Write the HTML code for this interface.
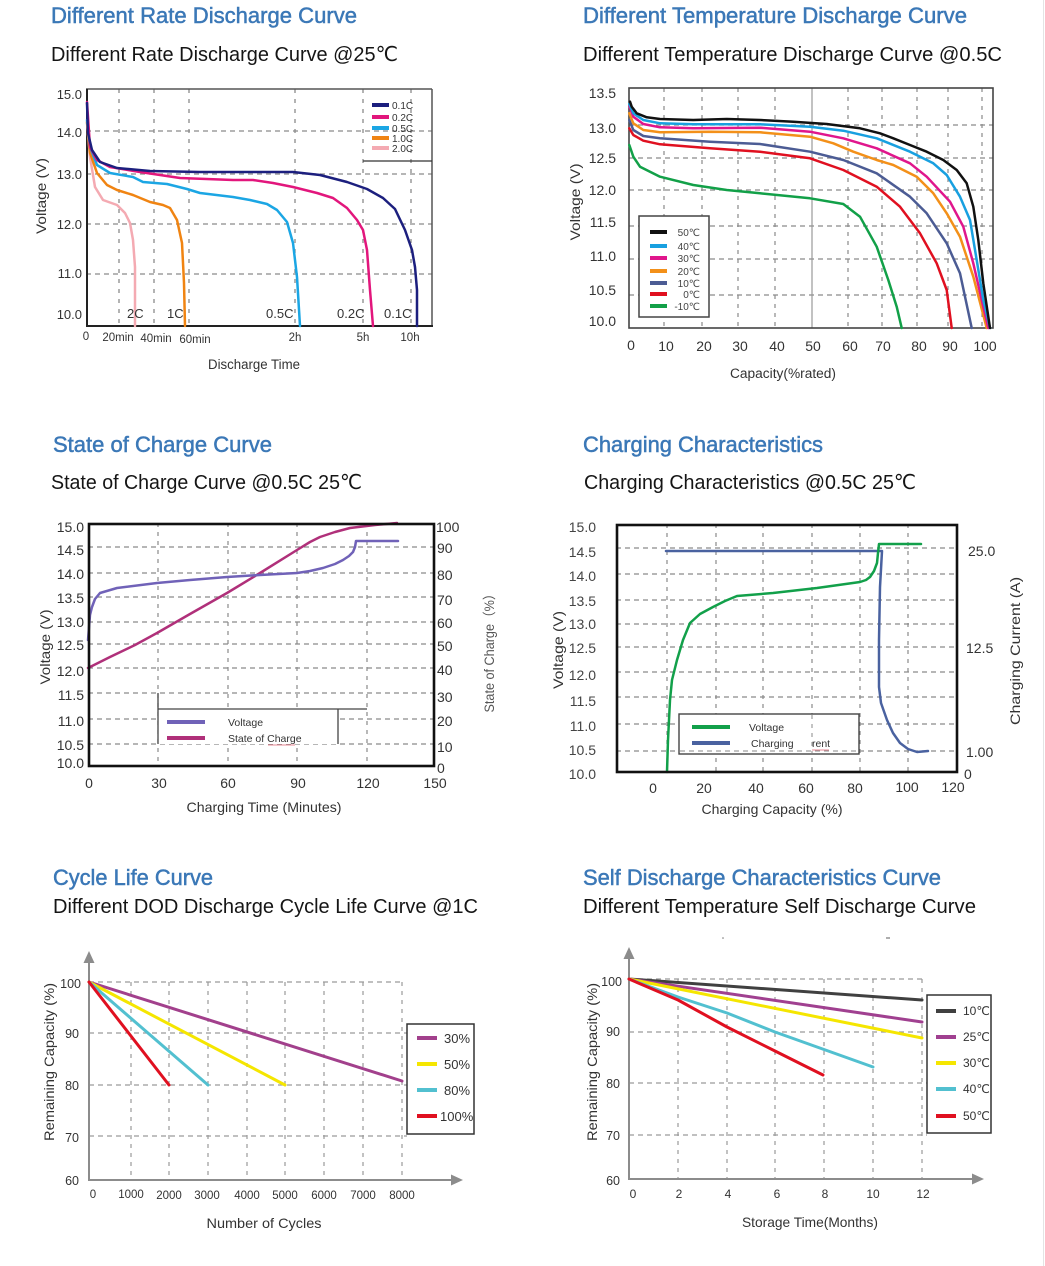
<!DOCTYPE html>
<html><head><meta charset="utf-8"><style>
html,body{margin:0;padding:0;background:#fff;}
svg{display:block;}
</style></head><body>
<svg width="1045" height="1266" viewBox="0 0 1045 1266" xmlns="http://www.w3.org/2000/svg" font-family="'Liberation Sans','DejaVu Sans','Noto Sans CJK SC',sans-serif">
<rect width="1045" height="1266" fill="#fff"/>
<line x1="1043.5" y1="0" x2="1043.5" y2="1266" stroke="#e4e4e4" stroke-width="1"/>

<!-- ============ TITLES ============ -->
<g fill="#3b78b7" stroke="#3b78b7" stroke-width="0.5" font-size="22">
<text x="51" y="23" textLength="306" lengthAdjust="spacingAndGlyphs">Different Rate Discharge Curve</text>
<text x="583" y="23" textLength="384" lengthAdjust="spacingAndGlyphs">Different Temperature Discharge Curve</text>
<text x="53" y="452" textLength="219" lengthAdjust="spacingAndGlyphs">State of Charge Curve</text>
<text x="583" y="452" textLength="240" lengthAdjust="spacingAndGlyphs">Charging Characteristics</text>
<text x="53" y="885" textLength="160" lengthAdjust="spacingAndGlyphs">Cycle Life Curve</text>
<text x="583" y="885" textLength="358" lengthAdjust="spacingAndGlyphs">Self Discharge Characteristics Curve</text>
</g>
<g fill="#151515" font-size="20.5">
<text x="51" y="61" textLength="347" lengthAdjust="spacingAndGlyphs">Different Rate Discharge Curve @25℃</text>
<text x="583" y="61" textLength="419" lengthAdjust="spacingAndGlyphs">Different Temperature Discharge Curve @0.5C</text>
<text x="51" y="489" textLength="311" lengthAdjust="spacingAndGlyphs">State of Charge Curve @0.5C 25℃</text>
<text x="584" y="489" textLength="332" lengthAdjust="spacingAndGlyphs">Charging Characteristics @0.5C 25℃</text>
<text x="53" y="913" textLength="425" lengthAdjust="spacingAndGlyphs">Different DOD Discharge Cycle Life Curve @1C</text>
<text x="583" y="913" textLength="393" lengthAdjust="spacingAndGlyphs">Different Temperature Self Discharge Curve</text>
</g>

<!-- ============ CHART 1 ============ -->
<g stroke="#8a8a8a" stroke-width="1.3" stroke-dasharray="5,4" fill="none">
<line x1="86" y1="131" x2="432" y2="131"/>
<line x1="86" y1="174" x2="432" y2="174"/>
<line x1="86" y1="224" x2="432" y2="224"/>
<line x1="86" y1="274" x2="432" y2="274"/>
</g>
<g stroke="#8a8a8a" stroke-width="1.3" stroke-dasharray="4,6" fill="none">
<line x1="119" y1="89" x2="119" y2="326"/>
<line x1="154" y1="89" x2="154" y2="326"/>
<line x1="189" y1="89" x2="189" y2="326"/>
<line x1="295" y1="89" x2="295" y2="326"/>
<line x1="363" y1="89" x2="363" y2="326"/>
<line x1="411" y1="89" x2="411" y2="326"/>
</g>
<line x1="86" y1="89" x2="432" y2="89" stroke="#555" stroke-width="1.5"/>
<line x1="432" y1="89" x2="432" y2="326" stroke="#555" stroke-width="1.5"/>
<line x1="87" y1="89" x2="87" y2="327" stroke="#222" stroke-width="2"/>
<line x1="86" y1="326" x2="433" y2="326" stroke="#222" stroke-width="2"/>
<!-- legend -->
<line x1="363" y1="161" x2="432" y2="161" stroke="#333" stroke-width="1.3"/>
<g stroke-width="4">
<line x1="372" y1="105" x2="389" y2="105" stroke="#1c1f7e"/>
<line x1="372" y1="117" x2="389" y2="117" stroke="#e2167c"/>
<line x1="372" y1="128" x2="389" y2="128" stroke="#1ba6e4"/>
<line x1="372" y1="138" x2="389" y2="138" stroke="#f08412"/>
<line x1="372" y1="148" x2="389" y2="148" stroke="#f4aab2"/>
</g>
<g font-size="10" fill="#333">
<text x="392" y="109">0.1C</text>
<text x="392" y="121">0.2C</text>
<text x="392" y="132">0.5C</text>
<text x="392" y="142">1.0C</text>
<text x="392" y="152">2.0C</text>
</g>
<!-- curves -->
<g fill="none" stroke-width="2.5" stroke-linejoin="round" stroke-linecap="round">
<polyline stroke="#f4aab2" points="87,123 90,157 95,187 103,200 117,205 125,213 130,223 133,240 135,267 135,326"/>
<polyline stroke="#f08412" points="87,122 90,153 97,173 107,185 117,190 133,195 150,202 163,205 170,208 177,220 182,243 184,283 185,326"/>
<polyline stroke="#1ba6e4" points="87,120 90,147 97,165 110,173 133,177 143,182 167,184 187,189 200,193 233,197 250,200 267,204 277,210 287,222 293,243 297,277 300,326"/>
<polyline stroke="#e2167c" points="87,102 90,147 97,160 110,167 140,172 180,178 233,180 253,180 273,183 293,187 317,193 333,198 347,208 357,220 363,230 367,250 370,290 373,326"/>
<polyline stroke="#1c1f7e" points="87,103 88,133 92,150 100,162 117,168 150,171 200,172 250,172 293,172 320,175 347,182 367,189 383,198 395,209 405,230 412,250 415,267 417,290 417,326"/>
</g>
<g font-size="13" fill="#333" text-anchor="end">
<text x="82" y="99">15.0</text>
<text x="82" y="137">14.0</text>
<text x="82" y="179">13.0</text>
<text x="82" y="229">12.0</text>
<text x="82" y="278">11.0</text>
<text x="82" y="319">10.0</text>
</g>
<g font-size="13" fill="#333">
<text x="127" y="318">2C</text>
<text x="167" y="318">1C</text>
<text x="266" y="318">0.5C</text>
<text x="337" y="318">0.2C</text>
<text x="384" y="318">0.1C</text>
</g>
<g font-size="11.5" fill="#333" text-anchor="middle">
<text x="86" y="340">0</text>
<text x="118" y="341">20min</text>
<text x="156" y="342">40min</text>
<text x="195" y="343">60min</text>
<text x="295" y="341">2h</text>
<text x="363" y="341">5h</text>
<text x="410" y="341">10h</text>
</g>
<text x="254" y="369" font-size="13.5" fill="#333" text-anchor="middle" textLength="92" lengthAdjust="spacingAndGlyphs">Discharge Time</text>
<text transform="translate(46,196) rotate(-90)" font-size="14" fill="#333" text-anchor="middle" textLength="76" lengthAdjust="spacingAndGlyphs">Voltage (V)</text>

<!-- ============ CHART 2 ============ -->
<g stroke="#8a8a8a" stroke-width="1.2" stroke-dasharray="5,4" fill="none">
<line x1="629" y1="125" x2="993" y2="125"/>
<line x1="629" y1="158" x2="993" y2="158"/>
<line x1="629" y1="190" x2="993" y2="190"/>
<line x1="629" y1="226" x2="993" y2="226"/>
<line x1="629" y1="259" x2="993" y2="259"/>
<line x1="629" y1="295" x2="993" y2="295"/>
</g>
<g stroke="#8a8a8a" stroke-width="1.2" stroke-dasharray="4,5" fill="none">
<line x1="664" y1="88" x2="664" y2="328"/>
<line x1="702" y1="88" x2="702" y2="328"/>
<line x1="738" y1="88" x2="738" y2="328"/>
<line x1="775" y1="88" x2="775" y2="328"/>
<line x1="848" y1="88" x2="848" y2="328"/>
<line x1="882" y1="88" x2="882" y2="328"/>
<line x1="917" y1="88" x2="917" y2="328"/>
<line x1="948" y1="88" x2="948" y2="328"/>
<line x1="982" y1="88" x2="982" y2="328"/>
</g>
<line x1="812" y1="88" x2="812" y2="328" stroke="#999" stroke-width="1.2"/>
<rect x="629" y="88" width="364" height="240" fill="none" stroke="#444" stroke-width="1.6"/>
<g fill="none" stroke-width="2.5" stroke-linejoin="round" stroke-linecap="round">
<polyline stroke="#12a048" points="629.3,145 633.3,156.7 640,166.7 660,176.7 693.3,185 726.7,190 760,193.3 810,198.3 843.3,204 860,216.7 876.7,246.7 888.3,280 896.7,306.7 901.7,328"/>
<polyline stroke="#e01020" points="629.3,128.3 633.3,135 643.3,140.7 660,144.3 710,148.3 760,151.7 810,158.3 843.3,170 876.7,186.7 900,206.7 920,233.3 936.7,263.3 946.7,290 951.7,328"/>
<polyline stroke="#4c5c94" points="629.3,120 633.3,130 643.3,136 660,138.3 710,141.7 760,144 810,151.7 843.3,160 876.7,173.3 910,196.7 926.7,213.3 946.7,243.3 960,273.3 971.7,328"/>
<polyline stroke="#f39019" points="629.3,113.3 633.3,123.3 643.3,130 660,132.3 710,131.7 760,132.3 810,136.7 833.3,143.3 853.3,151.7 876.7,160 893.3,165 916.7,176.7 933.3,193.3 946.7,213.3 960,236.7 973.3,276.7 986.7,328"/>
<polyline stroke="#e0168c" points="629.3,106 633.3,116.7 643.3,124 660,127.3 693.3,128.3 760,127.7 810,131.7 843.3,138.3 876.7,148.3 910,163.3 926.7,176.7 950,201.7 963.3,226.7 973.3,263.3 981.7,300 988.3,328"/>
<polyline stroke="#18a0e0" points="629.3,104 633.3,113.3 643.3,120 660,123.3 693.3,124.3 760,124.3 810,126.7 843.3,130.7 876.7,138.3 910,151.7 933.3,163.3 946.7,175 960,196.7 970,220 976.7,260 983.3,300 990,328"/>
<polyline stroke="#111" points="630,101.7 631.7,106.7 636.7,113.3 646.7,117.3 660,119 693.3,120 726.7,119 760,120 793.3,121.7 826.7,124 860,128.3 880,133.3 893.3,138.3 910,145 926.7,151.7 943.3,160 956.7,170 966.7,183.3 973.3,206.7 978.3,240 983.3,283.3 990,328"/>
</g>
<!-- legend -->
<rect x="639" y="216" width="70" height="101" fill="#fff" stroke="#444" stroke-width="1.5"/>
<g stroke-width="4">
<line x1="650" y1="232" x2="667" y2="232" stroke="#111"/>
<line x1="650" y1="246" x2="667" y2="246" stroke="#18a0e0"/>
<line x1="650" y1="258" x2="667" y2="258" stroke="#e0168c"/>
<line x1="650" y1="271" x2="667" y2="271" stroke="#f39019"/>
<line x1="650" y1="283" x2="667" y2="283" stroke="#4c5c94"/>
<line x1="650" y1="294" x2="667" y2="294" stroke="#e01020"/>
<line x1="650" y1="306" x2="667" y2="306" stroke="#12a048"/>
</g>
<g font-size="10" fill="#444" text-anchor="end">
<text x="700" y="236">50℃</text>
<text x="700" y="250">40℃</text>
<text x="700" y="262">30℃</text>
<text x="700" y="275">20℃</text>
<text x="700" y="287">10℃</text>
<text x="700" y="298">0℃</text>
<text x="700" y="310">-10℃</text>
</g>
<g font-size="14" fill="#333" text-anchor="end">
<text x="616" y="98">13.5</text>
<text x="616" y="133">13.0</text>
<text x="616" y="163">12.5</text>
<text x="616" y="195">12.0</text>
<text x="616" y="227">11.5</text>
<text x="616" y="261">11.0</text>
<text x="616" y="295">10.5</text>
<text x="616" y="326">10.0</text>
</g>
<g font-size="14" fill="#333" text-anchor="middle">
<text x="631" y="350">0</text>
<text x="666" y="351">10</text>
<text x="704" y="351">20</text>
<text x="740" y="351">30</text>
<text x="777" y="351">40</text>
<text x="813" y="351">50</text>
<text x="850" y="351">60</text>
<text x="883" y="351">70</text>
<text x="919" y="351">80</text>
<text x="950" y="351">90</text>
<text x="985" y="351">100</text>
</g>
<text x="783" y="378" font-size="13.5" fill="#333" text-anchor="middle" textLength="106" lengthAdjust="spacingAndGlyphs">Capacity(%rated)</text>
<text transform="translate(580,202) rotate(-90)" font-size="14" fill="#333" text-anchor="middle" textLength="77" lengthAdjust="spacingAndGlyphs">Voltage (V)</text>

<!-- ============ CHART 3 ============ -->
<g stroke="#8a8a8a" stroke-width="1.2" stroke-dasharray="5,4" fill="none">
<line x1="88" y1="547" x2="434" y2="547"/>
<line x1="88" y1="573" x2="434" y2="573"/>
<line x1="88" y1="597" x2="434" y2="597"/>
<line x1="88" y1="622" x2="434" y2="622"/>
<line x1="88" y1="644" x2="434" y2="644"/>
<line x1="88" y1="668" x2="434" y2="668"/>
<line x1="88" y1="693" x2="434" y2="693"/>
<line x1="88" y1="719" x2="434" y2="719"/>
<line x1="88" y1="744" x2="434" y2="744"/>
</g>
<g stroke="#8a8a8a" stroke-width="1.2" stroke-dasharray="4,5" fill="none">
<line x1="158" y1="523" x2="158" y2="766"/>
<line x1="228" y1="523" x2="228" y2="766"/>
<line x1="297" y1="523" x2="297" y2="766"/>
<line x1="367" y1="523" x2="367" y2="766"/>
</g>
<!-- legend -->
<rect x="158" y="709" width="180" height="35" fill="#fff"/>
<g stroke="#444" stroke-width="1.3" fill="none">
<line x1="158" y1="693" x2="158" y2="744"/>
<line x1="158" y1="709" x2="367" y2="709"/>
<line x1="338" y1="709" x2="338" y2="744"/>
</g>
<line x1="167" y1="722" x2="205" y2="722" stroke="#7062b8" stroke-width="4"/>
<line x1="167" y1="738" x2="205" y2="738" stroke="#b0307a" stroke-width="4"/>
<g font-size="10.5" fill="#333">
<text x="228" y="726">Voltage</text>
<text x="228" y="742">State of Charge</text>
</g>
<line x1="268" y1="745" x2="295" y2="745" stroke="#e06070" stroke-width="0.8"/>
<g fill="none" stroke-width="2.5" stroke-linejoin="round" stroke-linecap="round">
<polyline stroke="#b0307a" points="88,668 110,657 135,645 157,633 190,614 227,593 260,573 297,550 310,542 320,537 335,532 350,528 375,525 397,523"/>
<polyline stroke="#7062b8" points="88,640 90,615 92,607 95,599 100,593 117,588 157,583 190,580 227,577 260,575 297,573 310,571 323,568 335,564 343,560 349,556 353,552 355,547 356,541 398,541"/>
</g>
<rect x="89" y="524" width="345" height="242" fill="none" stroke="#111" stroke-width="2.6"/>
<g font-size="14" fill="#333" text-anchor="end">
<text x="84" y="532">15.0</text>
<text x="84" y="555">14.5</text>
<text x="84" y="579">14.0</text>
<text x="84" y="603">13.5</text>
<text x="84" y="627">13.0</text>
<text x="84" y="650">12.5</text>
<text x="84" y="676">12.0</text>
<text x="84" y="700">11.5</text>
<text x="84" y="726">11.0</text>
<text x="84" y="750">10.5</text>
<text x="84" y="768">10.0</text>
</g>
<g font-size="14" fill="#333">
<text x="436" y="532">100</text>
<text x="437" y="553">90</text>
<text x="437" y="580">80</text>
<text x="437" y="605">70</text>
<text x="437" y="628">60</text>
<text x="437" y="651">50</text>
<text x="437" y="675">40</text>
<text x="437" y="702">30</text>
<text x="437" y="726">20</text>
<text x="437" y="752">10</text>
<text x="437" y="773">0</text>
</g>
<g font-size="14" fill="#333" text-anchor="middle">
<text x="89" y="788">0</text>
<text x="159" y="788">30</text>
<text x="228" y="788">60</text>
<text x="298" y="788">90</text>
<text x="368" y="788">120</text>
<text x="435" y="788">150</text>
</g>
<text x="264" y="812" font-size="14" fill="#333" text-anchor="middle" textLength="155" lengthAdjust="spacingAndGlyphs">Charging Time (Minutes)</text>
<text transform="translate(50,647) rotate(-90)" font-size="14" fill="#333" text-anchor="middle" textLength="75" lengthAdjust="spacingAndGlyphs">Voltage (V)</text>
<text transform="translate(494,650) rotate(-90)" font-size="13.5" fill="#555" text-anchor="middle" textLength="125" lengthAdjust="spacingAndGlyphs">State of Charge（%）</text>

<!-- ============ CHART 4 ============ -->
<g stroke="#8a8a8a" stroke-width="1.2" stroke-dasharray="5,4" fill="none">
<line x1="616" y1="548" x2="957" y2="548"/>
<line x1="616" y1="574" x2="957" y2="574"/>
<line x1="616" y1="600" x2="957" y2="600"/>
<line x1="616" y1="624" x2="957" y2="624"/>
<line x1="616" y1="647" x2="957" y2="647"/>
<line x1="616" y1="672" x2="957" y2="672"/>
<line x1="616" y1="697" x2="957" y2="697"/>
<line x1="616" y1="724" x2="957" y2="724"/>
<line x1="616" y1="751" x2="957" y2="751"/>
</g>
<g stroke="#8a8a8a" stroke-width="1.2" stroke-dasharray="4,5" fill="none">
<line x1="667" y1="524" x2="667" y2="772"/>
<line x1="716" y1="524" x2="716" y2="772"/>
<line x1="763" y1="524" x2="763" y2="772"/>
<line x1="812" y1="524" x2="812" y2="772"/>
<line x1="860" y1="524" x2="860" y2="772"/>
<line x1="908" y1="524" x2="908" y2="772"/>
</g>
<!-- legend -->
<rect x="679" y="714" width="180" height="40" fill="#fff" stroke="#444" stroke-width="1.4"/>
<line x1="812" y1="715" x2="812" y2="753" stroke="#8a8a8a" stroke-width="1" stroke-dasharray="4,5"/>
<line x1="680" y1="751" x2="858" y2="751" stroke="#8a8a8a" stroke-width="1" stroke-dasharray="5,4"/>
<line x1="692" y1="727" x2="730" y2="727" stroke="#12a04a" stroke-width="4"/>
<line x1="692" y1="743" x2="730" y2="743" stroke="#4a62a0" stroke-width="4"/>
<g font-size="10.5" fill="#333">
<text x="749" y="731">Voltage</text>
<text x="751" y="747">Charging</text>
<text x="812" y="747">rent</text>
</g>
<line x1="812" y1="750" x2="829" y2="750" stroke="#e06070" stroke-width="0.8"/>
<g fill="none" stroke-width="2.5" stroke-linejoin="round" stroke-linecap="round">
<polyline stroke="#4a62a0" points="666,551 882,551 880,587 879,640 879,687 881,703 887,720 893,733 900,743 908,749 917,752 928,751"/>
<polyline stroke="#12a04a" points="667,772 668,740 670,700 672,680 677,660 683,640 690,623 700,614 713,607 725,601 737,596 773,593 817,588 860,582 866,580 870,577 874,571 877,563 878,553 879,544 921,544"/>
</g>
<rect x="617" y="525" width="340" height="247" fill="none" stroke="#111" stroke-width="2.6"/>
<g font-size="14" fill="#444" text-anchor="end">
<text x="596" y="532">15.0</text>
<text x="596" y="557">14.5</text>
<text x="596" y="581">14.0</text>
<text x="596" y="606">13.5</text>
<text x="596" y="629">13.0</text>
<text x="596" y="653">12.5</text>
<text x="596" y="680">12.0</text>
<text x="596" y="706">11.5</text>
<text x="596" y="731">11.0</text>
<text x="596" y="755">10.5</text>
<text x="596" y="779">10.0</text>
</g>
<g font-size="14" fill="#333">
<text x="968" y="556">25.0</text>
<text x="966" y="653">12.5</text>
<text x="966" y="757">1.00</text>
<text x="964" y="779">0</text>
</g>
<g font-size="14" fill="#333" text-anchor="middle">
<text x="653" y="793">0</text>
<text x="704" y="793">20</text>
<text x="756" y="793">40</text>
<text x="806" y="793">60</text>
<text x="855" y="793">80</text>
<text x="907" y="792">100</text>
<text x="953" y="792">120</text>
</g>
<text x="772" y="814" font-size="14" fill="#333" text-anchor="middle" textLength="141" lengthAdjust="spacingAndGlyphs">Charging Capacity (%)</text>
<text transform="translate(563,650) rotate(-90)" font-size="14" fill="#333" text-anchor="middle" textLength="78" lengthAdjust="spacingAndGlyphs">Voltage (V)</text>
<text transform="translate(1020,651) rotate(-90)" font-size="14" fill="#333" text-anchor="middle" textLength="148" lengthAdjust="spacingAndGlyphs">Charging Current (A)</text>

<!-- ============ CHART 5 ============ -->
<g stroke="#9a9a9a" stroke-width="1.2" stroke-dasharray="5,4" fill="none">
<line x1="89" y1="982" x2="402" y2="982"/>
<line x1="89" y1="1033" x2="407" y2="1033"/>
<line x1="89" y1="1085" x2="407" y2="1085"/>
<line x1="89" y1="1136" x2="407" y2="1136"/>
</g>
<g stroke="#9a9a9a" stroke-width="1.2" stroke-dasharray="4,5" fill="none">
<line x1="131" y1="982" x2="131" y2="1180"/>
<line x1="169" y1="982" x2="169" y2="1180"/>
<line x1="208" y1="982" x2="208" y2="1180"/>
<line x1="247" y1="982" x2="247" y2="1180"/>
<line x1="285" y1="982" x2="285" y2="1180"/>
<line x1="324" y1="982" x2="324" y2="1180"/>
<line x1="363" y1="982" x2="363" y2="1180"/>
<line x1="402" y1="982" x2="402" y2="1180"/>
</g>
<g stroke="#8c8c8c" stroke-width="2" fill="none">
<line x1="89" y1="960" x2="89" y2="1180"/>
<line x1="88" y1="1180" x2="454" y2="1180"/>
</g>
<polygon points="89,951 83.5,963 94.5,963" fill="#8c8c8c"/>
<polygon points="463,1180 451,1174.5 451,1185.5" fill="#8c8c8c"/>
<g stroke-width="3" stroke-linecap="round" fill="none">
<line x1="89" y1="982" x2="402" y2="1081" stroke="#a2408c"/>
<line x1="89" y1="982" x2="285" y2="1085" stroke="#f5e600"/>
<line x1="89" y1="982" x2="208" y2="1085" stroke="#52c0d0"/>
<line x1="89" y1="982" x2="169" y2="1085" stroke="#e01020"/>
</g>
<rect x="407" y="1024" width="67" height="110" fill="#fff" stroke="#333" stroke-width="1.5"/>
<g stroke-width="4">
<line x1="417" y1="1038" x2="437" y2="1038" stroke="#a2408c"/>
<line x1="417" y1="1064" x2="437" y2="1064" stroke="#f5e600"/>
<line x1="417" y1="1090" x2="437" y2="1090" stroke="#52c0d0"/>
<line x1="417" y1="1116" x2="437" y2="1116" stroke="#e01020"/>
</g>
<g font-size="13" fill="#333">
<text x="444" y="1043">30%</text>
<text x="444" y="1069">50%</text>
<text x="444" y="1095">80%</text>
<text x="440" y="1121">100%</text>
</g>
<g font-size="12.5" fill="#333" text-anchor="end">
<text x="81" y="988">100</text>
<text x="79" y="1038">90</text>
<text x="79" y="1090">80</text>
<text x="79" y="1142">70</text>
<text x="79" y="1185">60</text>
</g>
<g font-size="11.5" fill="#333" text-anchor="middle">
<text x="93" y="1198">0</text>
<text x="131" y="1198">1000</text>
<text x="169" y="1199">2000</text>
<text x="207" y="1199">3000</text>
<text x="247" y="1199">4000</text>
<text x="285" y="1199">5000</text>
<text x="324" y="1199">6000</text>
<text x="363" y="1199">7000</text>
<text x="402" y="1199">8000</text>
</g>
<text x="264" y="1228" font-size="14" fill="#333" text-anchor="middle" textLength="115" lengthAdjust="spacingAndGlyphs">Number of Cycles</text>
<text transform="translate(54,1062) rotate(-90)" font-size="14" fill="#333" text-anchor="middle" textLength="158" lengthAdjust="spacingAndGlyphs">Remaining Capacity (%)</text>

<!-- ============ CHART 6 ============ -->
<circle cx="723" cy="938" r="0.8" fill="#777"/>
<line x1="886" y1="938" x2="890" y2="938" stroke="#777" stroke-width="1.2"/>
<g stroke="#9a9a9a" stroke-width="1.2" stroke-dasharray="5,4" fill="none">
<line x1="629" y1="979" x2="922" y2="979"/>
<line x1="629" y1="1032" x2="927" y2="1032"/>
<line x1="629" y1="1083" x2="927" y2="1083"/>
<line x1="629" y1="1135" x2="927" y2="1135"/>
</g>
<g stroke="#9a9a9a" stroke-width="1.2" stroke-dasharray="4,5" fill="none">
<line x1="678" y1="979" x2="678" y2="1179"/>
<line x1="727" y1="979" x2="727" y2="1179"/>
<line x1="775" y1="979" x2="775" y2="1179"/>
<line x1="824" y1="979" x2="824" y2="1179"/>
<line x1="873" y1="979" x2="873" y2="1179"/>
<line x1="922" y1="979" x2="922" y2="1179"/>
</g>
<g stroke="#8c8c8c" stroke-width="2" fill="none">
<line x1="629" y1="957" x2="629" y2="1179"/>
<line x1="628" y1="1179" x2="975" y2="1179"/>
</g>
<polygon points="629,947 623.5,959 634.5,959" fill="#8c8c8c"/>
<polygon points="984,1179 972,1173.5 972,1184.5" fill="#8c8c8c"/>
<g stroke-width="3" stroke-linecap="round" stroke-linejoin="round" fill="none">
<line x1="629" y1="979" x2="922" y2="1000" stroke="#404040"/>
<line x1="629" y1="979" x2="922" y2="1022" stroke="#a04090"/>
<line x1="629" y1="979" x2="922" y2="1038" stroke="#f5e600"/>
<polyline points="629,979 678,997 727,1013 775,1032 873,1067" stroke="#52c0d0"/>
<polyline points="629,979 678,1000 727,1027 775,1051 823,1075" stroke="#e01020"/>
</g>
<rect x="927" y="995" width="64" height="138" fill="#fff" stroke="#333" stroke-width="1.5"/>
<g stroke-width="4">
<line x1="936" y1="1011" x2="956" y2="1011" stroke="#404040"/>
<line x1="936" y1="1037" x2="956" y2="1037" stroke="#a04090"/>
<line x1="936" y1="1063" x2="956" y2="1063" stroke="#f5e600"/>
<line x1="936" y1="1089" x2="956" y2="1089" stroke="#52c0d0"/>
<line x1="936" y1="1116" x2="956" y2="1116" stroke="#e01020"/>
</g>
<g font-size="12" fill="#333">
<text x="963" y="1015">10℃</text>
<text x="963" y="1041">25℃</text>
<text x="963" y="1067">30℃</text>
<text x="963" y="1093">40℃</text>
<text x="963" y="1120">50℃</text>
</g>
<g font-size="12.5" fill="#333" text-anchor="end">
<text x="622" y="986">100</text>
<text x="620" y="1036">90</text>
<text x="620" y="1088">80</text>
<text x="620" y="1140">70</text>
<text x="620" y="1185">60</text>
</g>
<g font-size="12" fill="#333" text-anchor="middle">
<text x="633" y="1198">0</text>
<text x="679" y="1198">2</text>
<text x="728" y="1198">4</text>
<text x="777" y="1198">6</text>
<text x="825" y="1198">8</text>
<text x="873" y="1198">10</text>
<text x="923" y="1198">12</text>
</g>
<text x="810" y="1227" font-size="14" fill="#333" text-anchor="middle" textLength="136" lengthAdjust="spacingAndGlyphs">Storage Time(Months)</text>
<text transform="translate(597,1062) rotate(-90)" font-size="14" fill="#333" text-anchor="middle" textLength="158" lengthAdjust="spacingAndGlyphs">Remaining Capacity (%)</text>
</svg>
</body></html>
